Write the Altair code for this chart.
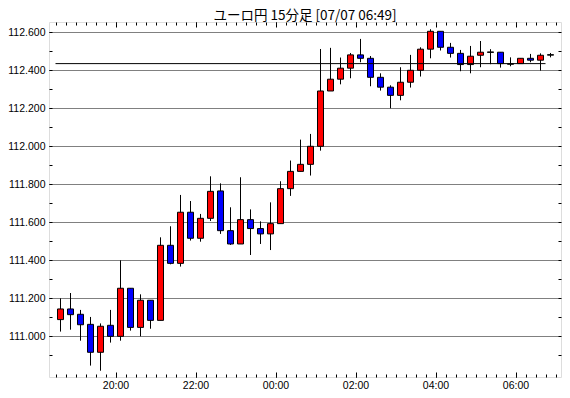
import altair as alt
import pandas as pd
import numpy as np

opens = [111.088, 111.144, 111.116, 111.063, 110.916, 111.058, 111.000, 111.253, 111.047, 111.190,
         111.084, 111.479, 111.384, 111.653, 111.516, 111.621, 111.765, 111.556, 111.486, 111.614,
         111.567, 111.539, 111.593, 111.777, 111.868, 111.905, 112.000, 112.291, 112.353, 112.411,
         112.481, 112.463, 112.363, 112.311, 112.268, 112.337, 112.400, 112.511, 112.605, 112.521,
         112.489, 112.430, 112.479, 112.495, 112.495, 112.433, 112.435, 112.463, 112.453, 112.481]
highs = [111.200, 111.228, 111.139, 111.102, 111.068, 111.139, 111.400, 111.253, 111.221, 111.190,
         111.521, 111.579, 111.744, 111.712, 111.644, 111.842, 111.805, 111.679, 111.837, 111.668,
         111.605, 111.705, 111.816, 111.925, 112.035, 112.065, 112.512, 112.518, 112.467, 112.491,
         112.565, 112.475, 112.384, 112.321, 112.416, 112.481, 112.521, 112.616, 112.605, 112.544,
         112.507, 112.528, 112.554, 112.511, 112.495, 112.468, 112.463, 112.486, 112.489, 112.491]
lows = [111.025, 111.035, 110.977, 110.846, 110.819, 110.967, 110.977, 111.030, 111.000, 111.040,
        111.084, 111.379, 111.367, 111.504, 111.498, 111.607, 111.539, 111.481, 111.486, 111.428,
        111.486, 111.454, 111.593, 111.739, 111.868, 111.846, 111.977, 112.291, 112.326, 112.358,
        112.442, 112.316, 112.293, 112.200, 112.242, 112.309, 112.367, 112.463, 112.504, 112.467,
        112.395, 112.384, 112.416, 112.432, 112.414, 112.421, 112.435, 112.442, 112.398, 112.468]
closes = [111.144, 111.114, 111.061, 110.916, 111.053, 111.000, 111.253, 111.047, 111.190, 111.084,
          111.479, 111.384, 111.653, 111.516, 111.621, 111.763, 111.556, 111.486, 111.614, 111.567,
          111.539, 111.593, 111.777, 111.868, 111.905, 112.000, 112.291, 112.353, 112.411, 112.481,
          112.463, 112.363, 112.311, 112.268, 112.337, 112.400, 112.511, 112.605, 112.521, 112.489,
          112.430, 112.474, 112.495, 112.495, 112.435, 112.433, 112.463, 112.453, 112.479, 112.481]

first_bar = "2017-07-06T18:30:00"
ref_level = 112.435
ref_start = "2017-07-06T18:30:00Z"
ref_end = "2017-07-07T06:45:00Z"

tick_labels = ["20:00", "22:00", "00:00", "02:00", "04:00", "06:00"]
major_times = pd.to_datetime(["2017-07-06 20:00", "2017-07-06 22:00", "2017-07-07 00:00",
                              "2017-07-07 02:00", "2017-07-07 04:00", "2017-07-07 06:00"])
minor_times = pd.date_range("2017-07-06 18:30", "2017-07-07 07:00", freq="15min")
y_ticks = [round(110.9 + 0.1 * i, 1) for i in range(18)]

starts = pd.date_range(first_bar, periods=len(opens), freq="15min")
df = pd.DataFrame({
    "t": (starts + pd.Timedelta(seconds=450)).strftime("%Y-%m-%dT%H:%M:%SZ"),
    "open": opens, "high": highs, "low": lows, "close": closes,
})
df["lo"] = df[["open", "close"]].min(axis=1)
df["hi"] = df[["open", "close"]].max(axis=1)
df["dir"] = np.where(df["close"] > df["open"], "up", np.where(df["close"] < df["open"], "down", "flat"))

ref_df = pd.DataFrame({"a": [ref_start], "b": [ref_end], "v": [ref_level]})

def ms(ts):
    return int(pd.Timestamp(ts).value // 10**6)

major_ms = [ms(t) for t in major_times]
minor_ms = [ms(t) for t in minor_times]

xscale = alt.Scale(type="utc", nice=False, padding=0,
                   domain=[ms("2017-07-06 18:20:15"), ms("2017-07-07 07:08:15")])
yscale = alt.Scale(domain=[110.786, 112.654], nice=False, zero=False, padding=0)

FONT = "Liberation Sans"
LS = 10.5
major_test = "round(datum.value*10) % 2 == 0"

x_bottom_major = alt.Axis(orient="bottom", values=major_ms, offset=-5, tickSize=5, domain=False,
                          grid=False, labelExpr="utcFormat(datum.value, '%H:%M')", labelPadding=3,
                          labelFont=FONT, labelFontSize=LS, labelColor="black", tickColor="black",
                          title=None, labelFlush=False, labelOverlap=False)
x_top_major = alt.Axis(orient="top", values=major_ms, offset=-5, tickSize=5, domain=False,
                       grid=False, labels=False, tickColor="black", title=None)
x_bottom_minor = alt.Axis(orient="bottom", values=minor_ms, offset=-3, tickSize=3, domain=False,
                          grid=False, labels=False, tickColor="black", title=None)
x_top_minor = alt.Axis(orient="top", values=minor_ms, offset=-3, tickSize=3, domain=False,
                       grid=False, labels=False, tickColor="black", title=None)

y_left = alt.Axis(orient="left", values=y_ticks, offset=-3, tickSize=3, domain=False,
                  labelExpr=f"{major_test} ? format(datum.value, '.3f') : ''",
                  grid=True, gridDash=[1, 1], gridColor="black",
                  gridOpacity={"condition": {"test": major_test, "value": 1}, "value": 0},
                  labelPadding=4, labelFont=FONT, labelFontSize=LS, labelColor="black",
                  tickColor="black", title=None, labelOverlap=False, labelFlush=False)
y_right = alt.Axis(orient="right", values=y_ticks, offset=-3, tickSize=3, domain=False,
                   grid=False, labels=False, tickColor="black", title=None)

base = alt.Chart(df)

wicks = base.mark_rule(color="black", strokeWidth=1).encode(
    x=alt.X("t:T", scale=xscale, axis=x_bottom_major),
    y=alt.Y("low:Q", scale=yscale, axis=y_left),
    y2="high:Q",
)

bodies = base.mark_bar(size=6, stroke="black", strokeWidth=1).encode(
    x=alt.X("t:T", scale=xscale, axis=x_top_major),
    y=alt.Y("lo:Q", scale=yscale, axis=y_right),
    y2="hi:Q",
    color=alt.Color("dir:N", scale=alt.Scale(domain=["up", "down", "flat"],
                                             range=["#ff0000", "#0000ff", "#000000"]), legend=None),
)

dojis = base.transform_filter("datum.open == datum.close").mark_tick(
    orient="horizontal", size=7, thickness=1, color="black").encode(
    x=alt.X("t:T", scale=xscale, axis=x_bottom_minor),
    y=alt.Y("close:Q", scale=yscale, axis=None),
)

refline = alt.Chart(ref_df).mark_rule(color="black", strokeWidth=1).encode(
    x=alt.X("a:T", scale=xscale, axis=x_top_minor),
    x2="b:T",
    y=alt.Y("v:Q", scale=yscale, axis=None),
)

chart = alt.layer(wicks, bodies, dojis, refline).resolve_axis(
    x="independent", y="independent"
).properties(
    width=512, height=355,
    title=alt.TitleParams("ユーロ円 15分足 [07/07 06:49]", font="Noto Sans CJK JP", fontSize=13.5,
                          fontWeight="normal", color="black", anchor="middle", offset=1, dy=2),
    autosize=alt.AutoSizeParams(type="none"),
    padding={"left": 41, "top": 14, "right": 1, "bottom": 12},
).configure_view(stroke="black", strokeWidth=1).configure(background="white")

chart.save("out.html", embed_options={"renderer": "svg", "actions": False})
